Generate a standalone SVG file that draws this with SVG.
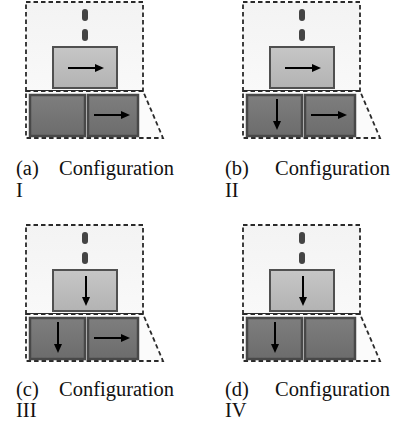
<svg xmlns="http://www.w3.org/2000/svg" width="396" height="433" viewBox="0 0 396 433">
  <defs>
    <linearGradient id="gUp" x1="0" y1="0" x2="0" y2="1">
      <stop offset="0" stop-color="#f3f3f3"/>
      <stop offset="1" stop-color="#f9f9f9"/>
    </linearGradient>
    <linearGradient id="gLight" x1="0" y1="0" x2="0" y2="1">
      <stop offset="0" stop-color="#c6c6c6"/>
      <stop offset="1" stop-color="#b3b3b3"/>
    </linearGradient>
    <linearGradient id="gDark" x1="0" y1="0" x2="0" y2="1">
      <stop offset="0" stop-color="#7e7e7e"/>
      <stop offset="1" stop-color="#6c6c6c"/>
    </linearGradient>
    <marker id="ah" markerWidth="4.5" markerHeight="4" refX="1" refY="2" orient="auto" markerUnits="strokeWidth">
      <path d="M0,0 L4.5,2 L0,4 Z" fill="#000"/>
    </marker>
    <g id="panel">
      <path class="up" d="M26,2 H143 V91 H26 Z"/>
      <path class="lo" d="M26,91 H143 L163,138 H26 Z"/>
      <rect class="dot" x="82" y="9" width="6" height="12" rx="3"/>
      <rect class="dot" x="82" y="29" width="6" height="12" rx="3"/>
      <rect class="light" x="53" y="47" width="64" height="41"/>
      <rect class="dark" x="30" y="95" width="55" height="41"/>
      <rect class="dark" x="88" y="95" width="50" height="41"/>
    </g>
  </defs>
  <style>
    .up { fill: url(#gUp); stroke: #2a2a2a; stroke-width: 1.8; stroke-dasharray: 4.5 3; }
    .lo { fill: #fbfbfb; stroke: #2a2a2a; stroke-width: 1.8; stroke-dasharray: 4.5 3; }
    .dot { fill: #444; }
    .light { fill: url(#gLight); stroke: #505050; stroke-width: 2; }
    .dark { fill: url(#gDark); stroke: #484848; stroke-width: 2.5; }
    .arr { stroke: #000; stroke-width: 2; fill: none; marker-end: url(#ah); }
    text { font-family: 'Liberation Serif', 'Times New Roman', serif; font-size: 20.5px; fill: #111; }
  </style>

  <g id="panel-a">
    <use href="#panel"/>
  </g>
  <g id="panel-b">
    <use href="#panel" x="217"/>
  </g>
  <g id="panel-c">
    <use href="#panel" y="223"/>
  </g>
  <g id="panel-d">
    <use href="#panel" x="217" y="223"/>
  </g>

  <g id="connectors">
    <line class="arr" x1="68" y1="68" x2="97" y2="68"/>
    <line class="arr" x1="94" y1="115" x2="123" y2="115"/>
    <line class="arr" x1="285" y1="68" x2="314" y2="68"/>
    <line class="arr" x1="311" y1="115" x2="340" y2="115"/>
    <line class="arr" x1="277" y1="99" x2="277" y2="123"/>
    <line class="arr" x1="86" y1="276" x2="86" y2="299"/>
    <line class="arr" x1="58" y1="322" x2="58" y2="346"/>
    <line class="arr" x1="94" y1="338" x2="123" y2="338"/>
    <line class="arr" x1="303" y1="276" x2="303" y2="299"/>
    <line class="arr" x1="275" y1="322" x2="275" y2="346"/>
  </g>

  <g id="captions" font-family="Liberation Serif, Times New Roman, serif" font-size="20.5">
    <text x="16" y="175">(a)</text>
    <text x="174" y="175" text-anchor="end">Configuration</text>
    <text x="16" y="197">I</text>
    <text x="225" y="175">(b)</text>
    <text x="390" y="175" text-anchor="end">Configuration</text>
    <text x="225" y="197">II</text>
    <text x="16" y="396">(c)</text>
    <text x="174" y="396" text-anchor="end">Configuration</text>
    <text x="16" y="417">III</text>
    <text x="225" y="396">(d)</text>
    <text x="390" y="396" text-anchor="end">Configuration</text>
    <text x="225" y="417">IV</text>
  </g>
</svg>
